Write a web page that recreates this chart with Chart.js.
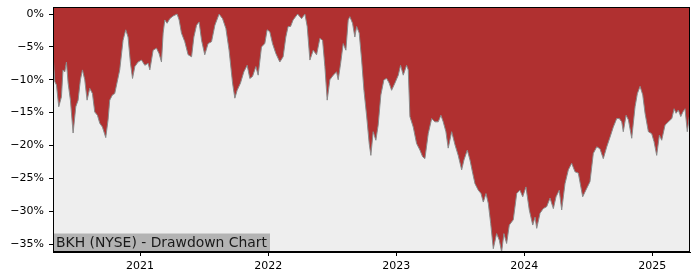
<!DOCTYPE html>
<html>
<head>
<meta charset="utf-8">
<script src="https://cdn.jsdelivr.net/npm/chart.js@4.4.1/dist/chart.umd.min.js"></script>
<style>
  html, body { margin: 0; padding: 0; background: #fff; }
  #wrap { width: 700px; height: 280px; }
</style>
</head>
<body>
<div id="wrap"><canvas id="chart" width="700" height="280"></canvas></div>
<script>
// drawdown in %, x as decimal year
var years = [
  2020.320, 2020.334, 2020.347, 2020.365, 2020.386, 2020.398, 2020.412, 2020.425, 2020.438, 2020.456,
  2020.477, 2020.498, 2020.516, 2020.534, 2020.550, 2020.568, 2020.586, 2020.607, 2020.628, 2020.646,
  2020.667, 2020.685, 2020.706, 2020.732, 2020.750, 2020.763, 2020.784, 2020.802, 2020.816, 2020.841,
  2020.867, 2020.888, 2020.906, 2020.925, 2020.941, 2020.959, 2020.984, 2021.011, 2021.037, 2021.063,
  2021.076, 2021.102, 2021.128, 2021.148, 2021.167, 2021.180, 2021.193, 2021.211, 2021.232, 2021.258,
  2021.289, 2021.305, 2021.323, 2021.349, 2021.375, 2021.402, 2021.420, 2021.441, 2021.461, 2021.480,
  2021.505, 2021.531, 2021.558, 2021.584, 2021.617, 2021.644, 2021.670, 2021.695, 2021.722, 2021.740,
  2021.758, 2021.784, 2021.810, 2021.836, 2021.857, 2021.878, 2021.904, 2021.922, 2021.948, 2021.974,
  2021.992, 2022.013, 2022.034, 2022.060, 2022.091, 2022.117, 2022.138, 2022.156, 2022.175, 2022.195,
  2022.230, 2022.261, 2022.287, 2022.305, 2022.326, 2022.352, 2022.378, 2022.404, 2022.425, 2022.443,
  2022.461, 2022.482, 2022.508, 2022.534, 2022.547, 2022.566, 2022.586, 2022.607, 2022.625, 2022.638,
  2022.659, 2022.677, 2022.691, 2022.711, 2022.730, 2022.748, 2022.769, 2022.789, 2022.802, 2022.820,
  2022.841, 2022.859, 2022.880, 2022.904, 2022.925, 2022.945, 2022.964, 2022.990, 2023.016, 2023.034,
  2023.055, 2023.081, 2023.094, 2023.107, 2023.133, 2023.159, 2023.185, 2023.206, 2023.224, 2023.250,
  2023.277, 2023.302, 2023.328, 2023.349, 2023.367, 2023.388, 2023.406, 2023.433, 2023.459, 2023.484,
  2023.511, 2023.529, 2023.555, 2023.576, 2023.597, 2023.615, 2023.641, 2023.662, 2023.680, 2023.701,
  2023.719, 2023.738, 2023.758, 2023.784, 2023.805, 2023.823, 2023.841, 2023.862, 2023.883, 2023.914,
  2023.941, 2023.966, 2023.988, 2024.013, 2024.039, 2024.066, 2024.084, 2024.097, 2024.123, 2024.148,
  2024.175, 2024.201, 2024.227, 2024.248, 2024.273, 2024.292, 2024.318, 2024.344, 2024.370, 2024.396,
  2024.422, 2024.456, 2024.488, 2024.513, 2024.539, 2024.566, 2024.591, 2024.617, 2024.644, 2024.670,
  2024.695, 2024.722, 2024.742, 2024.761, 2024.773, 2024.795, 2024.813, 2024.839, 2024.865, 2024.883,
  2024.904, 2024.925, 2024.943, 2024.969, 2024.995, 2025.013, 2025.034, 2025.055, 2025.073, 2025.099,
  2025.125, 2025.152, 2025.170, 2025.185, 2025.203, 2025.222, 2025.238, 2025.255, 2025.273, 2025.289
];

var drawdown = [
  -6.0, -10.3, -10.8, -14.1, -12.6, -8.5, -8.8, -7.3, -10.5, -13.1,
  -18.1, -14.1, -13.1, -10.0, -8.5, -10.0, -13.1, -11.3, -12.1, -14.9,
  -15.4, -16.6, -17.2, -18.8, -16.1, -13.1, -12.3, -12.1, -10.8, -8.5,
  -4.0, -2.4, -3.5, -7.5, -9.8, -8.0, -7.3, -7.0, -7.8, -7.5,
  -8.5, -5.5, -5.2, -6.0, -7.3, -2.9, -0.9, -1.4, -0.7, -0.3,
  0.0, -0.9, -2.9, -4.2, -6.2, -6.5, -3.5, -1.7, -1.2, -4.0,
  -6.2, -4.5, -4.2, -1.7, 0.0, -0.7, -2.2, -5.5, -10.5, -12.8,
  -11.6, -10.5, -8.8, -7.8, -9.8, -9.5, -8.0, -9.3, -5.0, -4.5,
  -2.4, -2.7, -4.5, -6.0, -7.3, -6.5, -3.5, -1.9, -1.9, -0.9,
  0.0, -0.7, 0.0, -1.9, -7.0, -5.5, -6.2, -3.7, -4.0, -8.0,
  -13.1, -10.0, -9.3, -8.8, -10.0, -7.5, -4.5, -5.5, -0.9, -0.4,
  -1.4, -3.5, -1.9, -2.9, -7.0, -11.6, -15.5, -19.7, -21.5, -17.9,
  -19.2, -16.9, -12.3, -10.0, -9.8, -10.5, -11.6, -10.5, -9.3, -7.8,
  -9.3, -7.8, -8.5, -15.6, -17.2, -19.7, -20.7, -21.7, -22.0, -18.2,
  -15.9, -16.4, -16.4, -15.4, -16.4, -17.9, -20.4, -17.9, -19.9, -21.5,
  -23.7, -22.2, -20.7, -22.2, -24.2, -25.8, -26.8, -27.3, -28.6, -27.3,
  -28.8, -31.9, -35.7, -33.4, -34.4, -36.2, -33.4, -34.9, -32.1, -31.3,
  -27.3, -26.8, -27.8, -26.3, -29.8, -32.1, -30.9, -32.6, -30.3, -29.6,
  -29.3, -28.0, -29.6, -27.8, -26.8, -29.8, -25.8, -23.7, -22.7, -24.0,
  -24.2, -27.8, -26.5, -25.5, -21.2, -20.2, -20.5, -22.0, -20.2, -18.7,
  -17.2, -15.9, -15.9, -16.4, -17.9, -15.4, -16.1, -18.9, -14.1, -12.1,
  -11.0, -12.3, -15.1, -17.9, -18.2, -19.4, -21.5, -18.4, -19.2, -16.9,
  -16.4, -15.9, -14.4, -15.1, -14.6, -15.6, -14.9, -14.4, -17.9, -15.6
];

var yearTicks = [2021, 2022, 2023, 2024, 2025];
var pctTicks = [0, -5, -10, -15, -20, -25, -30, -35];
var chartTitle = 'BKH (NYSE) - Drawdown Chart';

Chart.defaults.font.family = "'DejaVu Sans', sans-serif";
Chart.defaults.font.size = 11;
Chart.defaults.color = '#000';

// grey plot background, top/right frame and the title box
var framePlugin = {
    id: 'frame',
    beforeDraw: function(chart) {
        var ctx = chart.ctx, a = chart.chartArea;
        ctx.save();
        ctx.fillStyle = '#fff';
        ctx.fillRect(0, 0, chart.width, chart.height);
        ctx.fillStyle = '#eeeeee';
        ctx.fillRect(a.left, a.top, a.right - a.left, a.bottom - a.top);
        ctx.restore();
    },
    afterDraw: function(chart) {
        var ctx = chart.ctx, a = chart.chartArea;
        ctx.save();
        ctx.font = "13.9px 'DejaVu Sans', sans-serif";
        var w = ctx.measureText(chartTitle).width;
        ctx.fillStyle = '#b3b3b3';
        ctx.fillRect(a.left, a.bottom - 18.5, w + 6, 18.5);
        ctx.fillStyle = '#1a1a1a';
        ctx.textBaseline = 'middle';
        ctx.fillText(chartTitle, a.left + 3, a.bottom - 9);

        ctx.strokeStyle = '#000';
        ctx.lineWidth = 1;
        ctx.strokeRect(Math.round(a.left) + 0.5, Math.round(a.top) + 0.5,
            Math.round(a.right - a.left) - 1, Math.round(a.bottom - a.top) - 1);
        ctx.restore();
    }
};

new Chart(document.getElementById('chart'), {
    type: 'line',
    data: {
        datasets: [{
            data: years.map(function(x, i) { return { x: x, y: drawdown[i] }; }),
            fill: 'end',
            backgroundColor: '#b03030',
            borderColor: '#8a8a8a',
            borderWidth: 1,
            pointRadius: 0,
            tension: 0
        }]
    },
    options: {
        responsive: false,
        animation: false,
        layout: { padding: { top: 7, right: 10, left: 0, bottom: 0 } },
        plugins: {
            legend: { display: false },
            tooltip: { enabled: false }
        },
        scales: {
            x: {
                type: 'linear',
                min: 2020.32,
                max: 2025.294,
                afterBuildTicks: function(scale) {
                    scale.ticks = yearTicks.map(function(v) { return { value: v }; });
                },
                afterFit: function(scale) {
                    scale.height = 28;
                    scale.paddingLeft = 0;
                    scale.paddingRight = 0;
                },
                ticks: {
                    padding: 4,
                    maxRotation: 0,
                    callback: function(v) { return String(v); }
                },
                grid: { drawOnChartArea: false, tickLength: 4, color: '#000' },
                border: { display: true, color: '#000' }
            },
            y: {
                min: -36.2,
                max: 1.07,
                afterBuildTicks: function(scale) {
                    scale.ticks = pctTicks.map(function(v) { return { value: v }; });
                },
                afterFit: function(scale) {
                    scale.width = 53;
                    scale.paddingTop = 0;
                    scale.paddingBottom = 0;
                },
                ticks: {
                    padding: 5,
                    callback: function(v) { return (v < 0 ? '\u2212' : '') + Math.abs(v) + '%'; }
                },
                grid: { drawOnChartArea: false, tickLength: 4, color: '#000' },
                border: { display: true, color: '#000' }
            }
        }
    },
    plugins: [framePlugin]
});
</script>
</body>
</html>
